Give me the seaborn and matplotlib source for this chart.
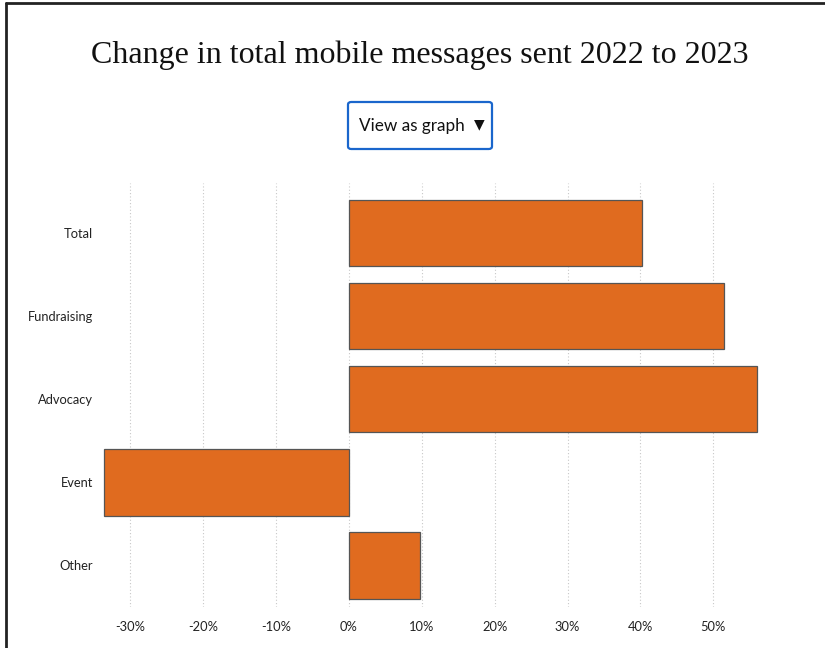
import matplotlib
matplotlib.use("Agg")
import matplotlib.pyplot as plt
import seaborn as sns
import pandas as pd
from matplotlib.patches import FancyBboxPatch
from matplotlib.lines import Line2D
from matplotlib.ticker import FuncFormatter

categories = ["Total", "Fundraising", "Advocacy", "Event", "Other"]
values = [40.2, 51.5, 56.0, -33.6, 9.7]
x_ticks = [-30, -20, -10, 0, 10, 20, 30, 40, 50]

title = "Change in total mobile messages sent 2022 to 2023"
button_text = "View as graph"

sns.set_theme(style="white")
plt.rcParams["font.family"] = ["Lato", "DejaVu Sans"]

W, H = 825, 648
fig = plt.figure(figsize=(W / 100, H / 100), dpi=100)
fig.patch.set_facecolor("white")

left, right, top, bottom = 104, 757, 183, 607
ax = fig.add_axes([left / W, 1 - bottom / H, (right - left) / W, (bottom - top) / H])

df = pd.DataFrame({"category": categories, "value": values})
sns.barplot(data=df, x="value", y="category", orient="h", color="#E06B1F",
            saturation=1, edgecolor="#555555", linewidth=0.9, width=0.8, ax=ax)
for p in ax.patches:
    p.set_clip_on(False)

ax.set_xlim(min(values), max(values))
ax.set_ylim(4.5, -0.6)
ax.set_xticks(x_ticks)
ax.xaxis.set_major_formatter(FuncFormatter(lambda v, p: f"{int(v)}%"))
ax.set_xlabel("")
ax.set_ylabel("")
for s in ax.spines.values():
    s.set_visible(False)
ax.grid(axis="x", color="#c8c8c8", linestyle=(0, (1, 2)), linewidth=0.8)
ax.grid(axis="y", visible=False)
ax.set_axisbelow(True)
ax.tick_params(axis="x", length=0, pad=10, labelsize=9.3, labelcolor="#222222")
ax.tick_params(axis="y", length=0, pad=8, labelsize=9.3, labelcolor="#222222")

# Title
fig.text(420 / W, 1 - 55 / H, title, ha="center", va="center",
         fontsize=23, family=["Liberation Serif", "DejaVu Serif"], color="#111111")

# Button
bx0, by0, bx1, by1 = 348, 102, 492, 149
btn = FancyBboxPatch((bx0 / W, 1 - by1 / H), (bx1 - bx0) / W, (by1 - by0) / H,
                     boxstyle="round,pad=0,rounding_size=0.004",
                     transform=fig.transFigure, facecolor="white",
                     edgecolor="#1a66cc", linewidth=1.6)
fig.patches.append(btn)
fig.text(359 / W, 1 - 126 / H, button_text, ha="left", va="center",
         fontsize=12.3, color="#111111")
fig.text(479 / W, 1 - 124 / H, "\u25BC", ha="center", va="center",
         fontsize=10, color="#111111", family=["DejaVu Sans"])

# Page frame lines
fig.add_artist(Line2D([6 / W, 1], [1 - 3 / H, 1 - 3 / H], transform=fig.transFigure,
                      color="#222222", linewidth=2))
fig.add_artist(Line2D([6 / W, 6 / W], [0, 1 - 3 / H], transform=fig.transFigure,
                      color="#222222", linewidth=2))

fig.savefig("out.png", dpi=100)
